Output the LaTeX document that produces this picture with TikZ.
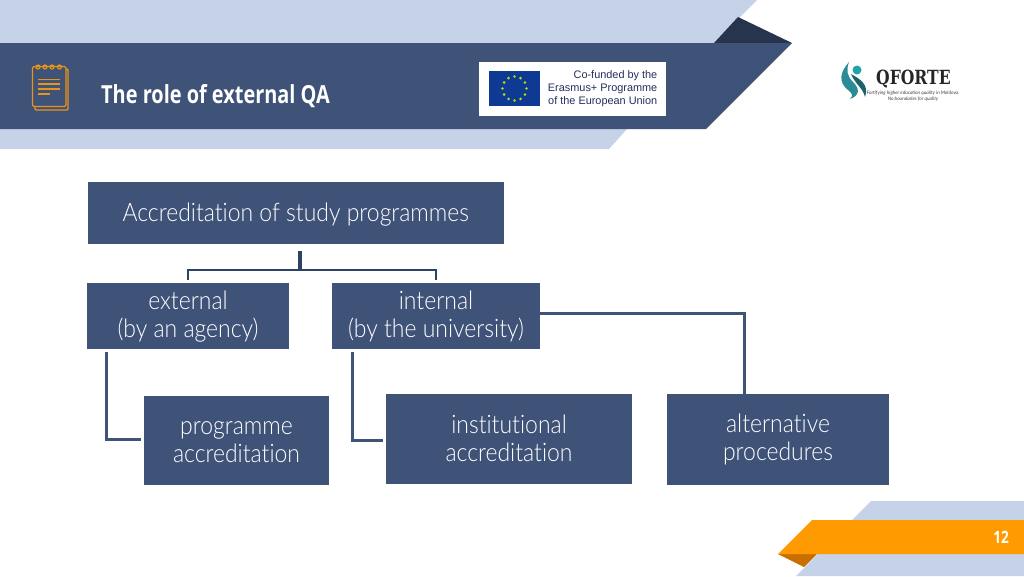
\documentclass[tikz,border=0pt]{standalone}
\usepackage{fontspec, tkz-euclide}
\setmainfont{Lato}
\newfontfamily\titlefont[FakeStretch=0.8]{Open Sans}
\newfontfamily\boxfont[FakeStretch=0.9, Ligatures=NoCommon]{Lato Light}
\newfontfamily\eufont{Liberation Sans}
\newfontfamily\logofont[FakeStretch=0.8]{DejaVu Serif}
\newcommand{\nudgeline}[2]{\raisebox{#1}[\height][\depth]{#2}}
\definecolor{bannerblue}{HTML}{3F5278}
\definecolor{bandlight}{HTML}{C5D2E8}
\definecolor{bannerdark}{HTML}{28344E}
\definecolor{pageorange}{HTML}{FF9A00}
\definecolor{pagedark}{HTML}{C96F00}
\definecolor{iconorange}{HTML}{E8941A}
\definecolor{linedark}{HTML}{2E4266}
\definecolor{flagblue}{HTML}{0F3A94}
\definecolor{logoteal}{HTML}{2B8C96}
\tikzset{
  boxnode/.style={fill=bannerblue, text=white, align=center, inner sep=0pt,
    font=\boxfont\fontsize{25.5}{28}\selectfont},
  joinline/.style={draw=bannerblue, line width=3pt},
  topline/.style={draw=linedark, line width=3.2pt},
  iconline/.style={draw=iconorange, line width=1.2pt}
}
\begin{document}
\begin{tikzpicture}[x=1pt,y=-1pt]
\useasboundingbox (0,0) rectangle (1024,576);
\tkzDefPoints{0/0/A, 757/0/B, 714/43/C, 0/43/D, 792/43/E, 706/129/F, 0/129/G, 738/17/H, 627/129/I, 609/149/J, 0/149/K}
\tkzFillPolygon[bandlight](A,B,C,D)
\tkzFillPolygon[bandlight](G,I,J,K)
\tkzFillPolygon[bannerdark](C,H,E)
\tkzFillPolygon[bannerblue](D,E,F,G)
\tkzDefPoints{871/501/L, 1024/501/M, 1024/576/N, 796/576/O, 778/554/P, 812/520/Q, 1024/520/R, 1024/554/S, 817/554/T, 804/567/U}
\tkzFillPolygon[bandlight](L,M,N,O)
\tkzFillPolygon[pagedark](P,T,U)
\tkzFillPolygon[pageorange](P,Q,R,S)
\node[text=white, font=\titlefont\bfseries\fontsize{24.9}{24}\selectfont, anchor=west, inner sep=0pt] (title) at (101,96) {The role of external QA};
\node[text=white, font=\titlefont\bfseries\fontsize{17}{17}\selectfont] (pagenum) at (1001,537) {12};
% notebook icon
\draw[iconline, rounded corners=1pt] (36,69) -- (68,69) -- (68,110) -- (35,110) -- (35,107);
\draw[iconline, fill=bannerblue, rounded corners=1.5pt] (32.5,66.5) rectangle (66,106.5);
\foreach \ringx in {38,45,52,59.5}
  \draw[iconline] (\ringx,67) circle (2);
\foreach \liney in {79.5,84,89}
  \draw[iconline] (38,\liney) -- (60,\liney);
\draw[iconline] (38,94) -- (50,94);
% funding logo
\fill[white] (479,62) rectangle (666,116);
\fill[flagblue] (489,71) rectangle (540,106);
\foreach \staran in {0,30,...,330}
  \fill[yellow!70!green] (514.5,88.5) ++(\staran:12) circle (1.4);
\node[font=\eufont\fontsize{10.9}{13}\selectfont, text=bannerdark!90!blue, align=right, anchor=east, inner sep=0pt] (eutext) at (657.5,89) {Co-funded by the\\Erasmus+ Programme\\of the European Union};
% qforte logo
\fill[logoteal] (849,62) .. controls (840,72) and (838,82) .. (848,90) .. controls (853,94) and (853,96) .. (850,99) .. controls (861,95) and (859,88) .. (853,82) .. controls (847,76) and (846,70) .. (849,62);
\fill[logoteal!70!black] (851,74) .. controls (858,78) and (870,84) .. (865,97) .. controls (863,88) and (855,84) .. (851,74);
\fill[logoteal!80!cyan] (857,70) circle (4.5);
\node[font=\logofont\bfseries\fontsize{19.5}{20}\selectfont, text=black!85, anchor=west, inner sep=0pt] (logoname) at (876,79) {QFORTE};
\node[font=\itshape\fontsize{4.8}{5.6}\selectfont, text=black!75, align=center] (logotag) at (913,96) {Fortifying higher education quality in Moldova.\\No boundaries for quality};
% boxes
\node[boxnode, minimum width=416.5pt, minimum height=62pt] (main) at (295.75,213) {\nudgeline{-2pt}{Accreditation of study programmes}};
\node[boxnode, minimum width=202pt, minimum height=66pt] (external) at (188,316) {\nudgeline{-1pt}{external}\\\nudgeline{-1pt}{(by an agency)}};
\node[boxnode, minimum width=208pt, minimum height=66pt] (internal) at (436,316) {internal\\(by the university)};
\node[boxnode, minimum width=185pt, minimum height=89pt] (programme) at (236.5,440.5) {\nudgeline{-1.5pt}{programme}\\\nudgeline{-1.5pt}{accreditation}};
\node[boxnode, minimum width=246pt, minimum height=90pt] (institutional) at (509,439) {\nudgeline{1pt}{institutional}\\\nudgeline{1pt}{accreditation}};
\node[boxnode, minimum width=222pt, minimum height=91pt] (alternative) at (778,439.5) {alternative\\procedures};
% connectors
\coordinate (stemtop) at (300,251);
\coordinate (stemfoot) at (300,270);
\coordinate (extdrop) at (188,280);
\coordinate (intdrop) at (436,280);
\coordinate (extfoot) at (106,352);
\coordinate (progend) at (141,439);
\coordinate (intfoot) at (352,352);
\coordinate (instend) at (383,440);
\coordinate (altcorner) at (744,313);
\draw[topline] (stemtop) -- (stemfoot);
\draw[topline, line width=2.8pt] (extdrop) |- (stemfoot) -| (intdrop);
\draw[joinline] (extfoot) |- (progend);
\draw[joinline] (intfoot) |- (instend);
\draw[joinline] (internal.east |- altcorner) -- (altcorner) -- (alternative.north -| altcorner);
\end{tikzpicture}
\end{document}
